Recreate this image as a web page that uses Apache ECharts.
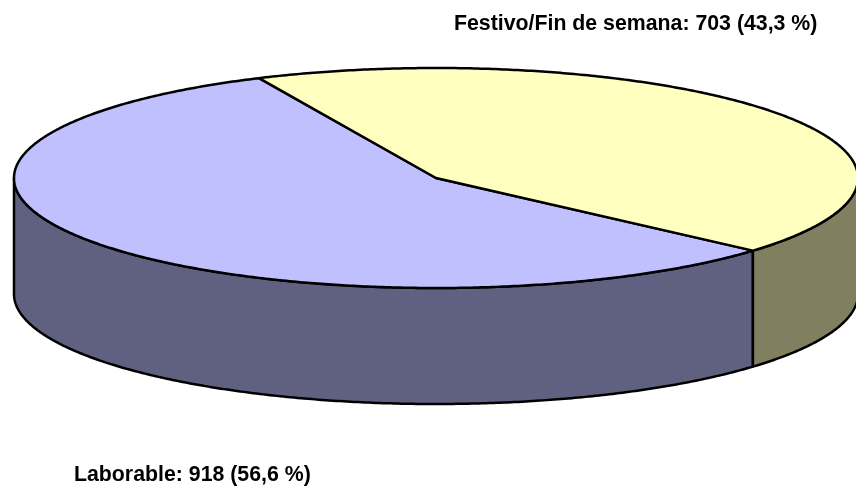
<!DOCTYPE html>
<html>
<head>
<meta charset="utf-8">
<style>html,body{margin:0;padding:0;background:#fff}#c{width:856px;height:489px}</style>
<script src="https://cdn.jsdelivr.net/npm/echarts@6/dist/echarts.min.js"></script>
</head>
<body>
<div id="c"></div>
<script>
var categories = ['Laborable', 'Festivo/Fin de semana'];
var values = [918, 703];
var percents = ['56,6', '43,3'];
var topColors = ['#C0C0FF', '#FFFFC0'];
var sideColors = ['#606080', '#808060'];
var labelPos = [[74, 475], [454, 24]];

var cx = 436, cy = 178, rx = 422, ry = 110, depth = 116;
var startDeg = 114.8;
var total = values.reduce(function (a, b) { return a + b; }, 0);

function pt(deg, dy) {
  var r = deg * Math.PI / 180;
  return [cx + rx * Math.cos(r), cy - ry * Math.sin(r) + (dy || 0)];
}
function arc(a, b, dy) {
  var out = [], n = Math.max(2, Math.ceil(Math.abs(b - a) * 2));
  for (var i = 0; i <= n; i++) out.push(pt(a + (b - a) * i / n, dy));
  return out;
}
// slice i spans [from, to] in ellipse-parameter degrees, going anticlockwise from startDeg
function span(i) {
  var from = startDeg;
  for (var k = 0; k < i; k++) from += 360 * values[k] / total;
  return [from, from + 360 * values[i] / total];
}
var stroke = { stroke: '#000', lineWidth: 2.5, lineJoin: 'round' };

function renderItem(params, api) {
  var i = params.dataIndex;
  var s = span(i), kids = [];
  // visible side wall: the front half of the rim, 180..360 and 540..720 deg
  [[180, 360], [540, 720]].forEach(function (w) {
    var a = Math.max(s[0], w[0]), b = Math.min(s[1], w[1]);
    if (a < b) {
      var pts = arc(a, b, 0).concat(arc(b, a, depth));
      kids.push({
        type: 'polygon', z2: 1, shape: { points: pts },
        style: Object.assign({ fill: sideColors[i] }, stroke)
      });
    }
  });
  kids.push({
    type: 'polygon', z2: 2,
    shape: { points: [[cx, cy]].concat(arc(s[0], s[1], 0)) },
    style: Object.assign({ fill: topColors[i] }, stroke)
  });
  kids.push({
    type: 'text', z2: 3, x: labelPos[i][0], y: labelPos[i][1],
    style: {
      text: categories[i] + ': ' + api.value(0) + ' (' + percents[i] + ' %)',
      fill: '#000', font: 'bold 21.3px "Liberation Sans", Arial, sans-serif',
      textAlign: 'left', textVerticalAlign: 'middle'
    }
  });
  return { type: 'group', children: kids };
}

var chart = echarts.init(document.getElementById('c'), null, { renderer: 'canvas' });
chart.setOption({
  animation: false,
  backgroundColor: '#fff',
  series: [{
    type: 'custom',
    coordinateSystem: 'none',
    renderItem: renderItem,
    clip: false,
    data: values.map(function (v) { return [v]; })
  }]
});
</script>
</body>
</html>
